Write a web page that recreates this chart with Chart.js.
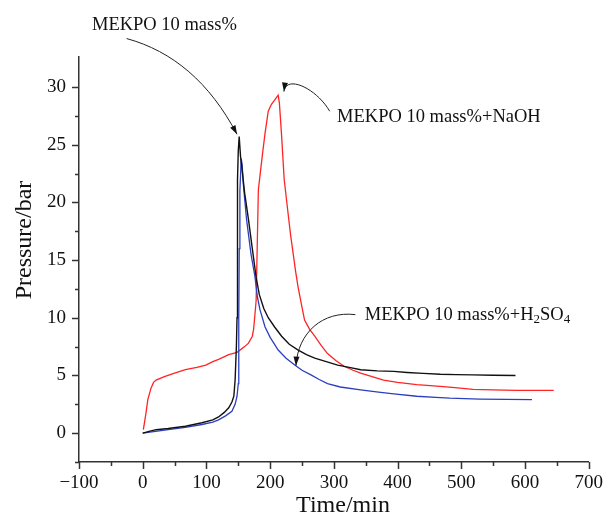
<!doctype html>
<html lang="en">
<head>
<meta charset="utf-8">
<title>MEKPO pressure vs time</title>
<style>
  * { margin: 0; padding: 0; }
  body { background: #fff; }
  .chartBox { width: 613px; height: 520px; }
</style>
</head>
<body>
<div class="chartBox"><canvas id="myChart"></canvas></div>
<script src="https://cdn.jsdelivr.net/npm/chart.js"></script>
<script>
// MEKPO 10 mass%
const plainTime = [0, 10, 21, 40, 67, 93, 110, 119, 128, 135, 140, 143, 145, 147, 148, 148.5, 149, 150, 151.4,
  153.5, 156, 160, 166, 172, 178, 183, 190, 197, 207, 218, 230, 244, 257, 270, 288, 306, 324, 342, 368, 394,
  415, 440, 467, 492, 518, 550, 585];
const plainPressure = [0, 0.15, 0.3, 0.4, 0.6, 0.9, 1.15, 1.4, 1.8, 2.2, 2.7, 3.2, 4.6, 7.5, 10, 16, 22, 24.5, 25.7,
  24, 22.8, 20.8, 18.5, 16, 13.5, 12, 10.8, 10.0, 9.2, 8.4, 7.7, 7.2, 6.8, 6.5, 6.2, 5.9, 5.7, 5.5, 5.4, 5.35,
  5.26, 5.18, 5.1, 5.07, 5.05, 5.02, 5.0];

// MEKPO 10 mass%+NaOH
const naohTime = [1, 3, 5, 8, 13, 17, 21, 34, 50, 67, 85, 99, 110, 119, 135, 148, 160, 166, 172, 174, 176, 178,
  180, 181.5, 184, 188, 192, 197, 202, 207.5, 212.6, 214.5, 217.7, 222, 228, 232, 236, 240, 243.7, 250, 254,
  262, 270, 280, 290, 303, 316, 330, 342, 360, 378, 400, 430, 467, 490, 518, 550, 586, 620, 645];
const naohPressure = [0.3, 1, 1.7, 2.9, 3.9, 4.4, 4.6, 4.9, 5.2, 5.5, 5.7, 5.9, 6.2, 6.4, 6.8, 7.0, 7.5, 7.8, 8.4,
  9, 10.2, 11.5, 17, 21.1, 22.3, 24.2, 26, 27.9, 28.5, 28.9, 29.3, 28.6, 26, 22, 19.1, 17.2, 15.6, 14, 12.7,
  10.9, 9.8, 9.0, 8.4, 7.6, 6.9, 6.3, 5.8, 5.45, 5.2, 4.9, 4.6, 4.4, 4.2, 4.05, 3.95, 3.8, 3.75, 3.7, 3.7, 3.7];

// MEKPO 10 mass%+H2SO4
const acidTime = [0, 20, 40, 67, 93, 110, 119, 130, 140, 145, 148, 150, 150.5, 151, 151.5, 152.5, 154.6, 156,
  158, 163, 170, 176, 180, 184, 192, 200, 212.6, 225, 238.6, 250, 264, 277, 290, 310, 342, 370, 394, 430, 460,
  482, 529, 570, 611];
const acidPressure = [0, 0.15, 0.3, 0.5, 0.75, 0.95, 1.15, 1.5, 1.9, 2.5, 3.2, 4.3, 6, 10, 16, 21, 23.8, 23.3,
  21.5, 18.5, 15.5, 13.6, 11.8, 10.7, 9.2, 8.3, 7.2, 6.5, 5.9, 5.45, 5.05, 4.65, 4.3, 4.0, 3.75, 3.55, 3.4, 3.2,
  3.1, 3.03, 2.95, 2.92, 2.9];

const xTicksMajor = [-100, 0, 100, 200, 300, 400, 500, 600, 700];
const yTicksMajor = [0, 5, 10, 15, 20, 25, 30];

const serif = "'Liberation Serif', 'Times New Roman', serif";
const axisColor = '#333';

function points(xs, ys) {
  return xs.map((x, i) => ({ x: x, y: ys[i] }));
}

// arrows and labels, given in data units
const notes = [
  { text: ['MEKPO 10 mass%'], at: [-79.7, 35.4],
    curve: [[-25.3, 34.2], [47.2, 33.1], [104.9, 30.4], [148, 25.9]] },
  { text: ['MEKPO 10 mass%+NaOH'], at: [305, 27.4],
    curve: [[293.5, 27.9], [271.6, 29.95], [224.8, 31.07], [221.6, 29.6]] },
  { text: ['MEKPO 10 mass%+H', '2', 'SO', '4'], at: [348.6, 10.27],
    curve: [[333.7, 10.27], [282.4, 10.62], [243.6, 8.71], [240.5, 5.85]] }
];

function drawArrow(ctx, p) {
  const [p0, c1, c2, p3] = p;
  ctx.beginPath();
  ctx.moveTo(p0[0], p0[1]);
  ctx.bezierCurveTo(c1[0], c1[1], c2[0], c2[1], p3[0], p3[1]);
  ctx.stroke();
  const ang = Math.atan2(p3[1] - c2[1], p3[0] - c2[0]);
  const L = 9, W = 3;
  const bx = p3[0] - L * Math.cos(ang), by = p3[1] - L * Math.sin(ang);
  ctx.beginPath();
  ctx.moveTo(p3[0], p3[1]);
  ctx.lineTo(bx + W * Math.sin(ang), by - W * Math.cos(ang));
  ctx.lineTo(bx - W * Math.sin(ang), by + W * Math.cos(ang));
  ctx.closePath();
  ctx.fill();
}

const extras = {
  id: 'extras',
  afterDraw(chart) {
    const ctx = chart.ctx;
    const xs = chart.scales.x, ys = chart.scales.y;
    const area = chart.chartArea;
    ctx.save();
    // tick marks, long on labelled values, short in between
    ctx.strokeStyle = axisColor;
    ctx.lineWidth = 1.5;
    xs.ticks.forEach(t => {
      if (Math.abs(t.value / 50 - Math.round(t.value / 50)) > 1e-6) return;
      const len = xTicksMajor.includes(t.value) ? 7 : 4;
      const px = Math.round(xs.getPixelForValue(t.value)) + 0.5;
      ctx.beginPath(); ctx.moveTo(px, area.bottom); ctx.lineTo(px, area.bottom + len); ctx.stroke();
    });
    ys.ticks.forEach(t => {
      if (Math.abs(t.value / 2.5 - Math.round(t.value / 2.5)) > 1e-6) return;
      const len = yTicksMajor.includes(t.value) ? 7 : 4;
      const py = Math.round(ys.getPixelForValue(t.value)) + 0.5;
      ctx.beginPath(); ctx.moveTo(area.left, py); ctx.lineTo(area.left - len, py); ctx.stroke();
    });

    // axis titles
    ctx.fillStyle = '#111';
    ctx.font = '24px ' + serif;
    ctx.textAlign = 'center';
    ctx.textBaseline = 'middle';
    ctx.fillText('Time/min', 343, 506);
    ctx.save();
    ctx.translate(25, 240);
    ctx.rotate(-Math.PI / 2);
    ctx.fillText('Pressure/bar', 0, 0);
    ctx.restore();

    // annotations
    ctx.strokeStyle = '#222';
    ctx.fillStyle = '#111';
    ctx.lineWidth = 1;
    notes.forEach(n => {
      drawArrow(ctx, n.curve.map(p => [xs.getPixelForValue(p[0]), ys.getPixelForValue(p[1])]));
      let x = xs.getPixelForValue(n.at[0]);
      const y = ys.getPixelForValue(n.at[1]);
      ctx.textAlign = 'left';
      ctx.textBaseline = 'middle';
      n.text.forEach((part, i) => {
        const sub = i % 2 === 1;
        ctx.font = (sub ? '13px ' : '18.5px ') + serif;
        ctx.fillText(part, x, sub ? y + 5 : y);
        x += ctx.measureText(part).width;
      });
    });
    ctx.restore();
  }
};

const data = {
  datasets: [
    { label: 'MEKPO 10 mass%', data: points(plainTime, plainPressure),
      borderColor: '#111', borderWidth: 1.4 },
    { label: 'MEKPO 10 mass%+H2SO4', data: points(acidTime, acidPressure),
      borderColor: '#2b3fbf', borderWidth: 1.3 },
    { label: 'MEKPO 10 mass%+NaOH', data: points(naohTime, naohPressure),
      borderColor: '#ff2424', borderWidth: 1.3 }
  ]
};

const config = {
  type: 'scatter',
  data,
  options: {
    responsive: true,
    maintainAspectRatio: false,
    animation: false,
    showLine: true,
    elements: { point: { radius: 0 }, line: { tension: 0 } },
    layout: { padding: { top: 57, right: 19, left: 0, bottom: 0 } },
    plugins: { legend: { display: false }, tooltip: { enabled: false } },
    scales: {
      x: {
        type: 'linear', min: -100, max: 700,
        grid: { display: false, drawTicks: false },
        border: { display: true, color: axisColor, width: 1.5 },
        ticks: {
          stepSize: 50, padding: 10, color: '#111', maxRotation: 0, autoSkip: false,
          font: { family: serif, size: 19 },
          callback: v => xTicksMajor.includes(v) ? String(v).replace('-', '\u2212') : ''
        },
        afterFit: s => { s.height = 58; }
      },
      y: {
        type: 'linear', min: -2.5, max: 32.6,
        grid: { display: false, drawTicks: false },
        border: { display: true, color: axisColor, width: 1.5 },
        ticks: {
          stepSize: 2.5, padding: 13, color: '#111', autoSkip: false,
          font: { family: serif, size: 19 },
          callback: v => yTicksMajor.includes(v) ? String(v) : ''
        },
        afterFit: s => { s.width = 79; }
      }
    }
  },
  plugins: [extras]
};

const myChart = new Chart(document.getElementById('myChart'), config);
</script>
</body>
</html>
